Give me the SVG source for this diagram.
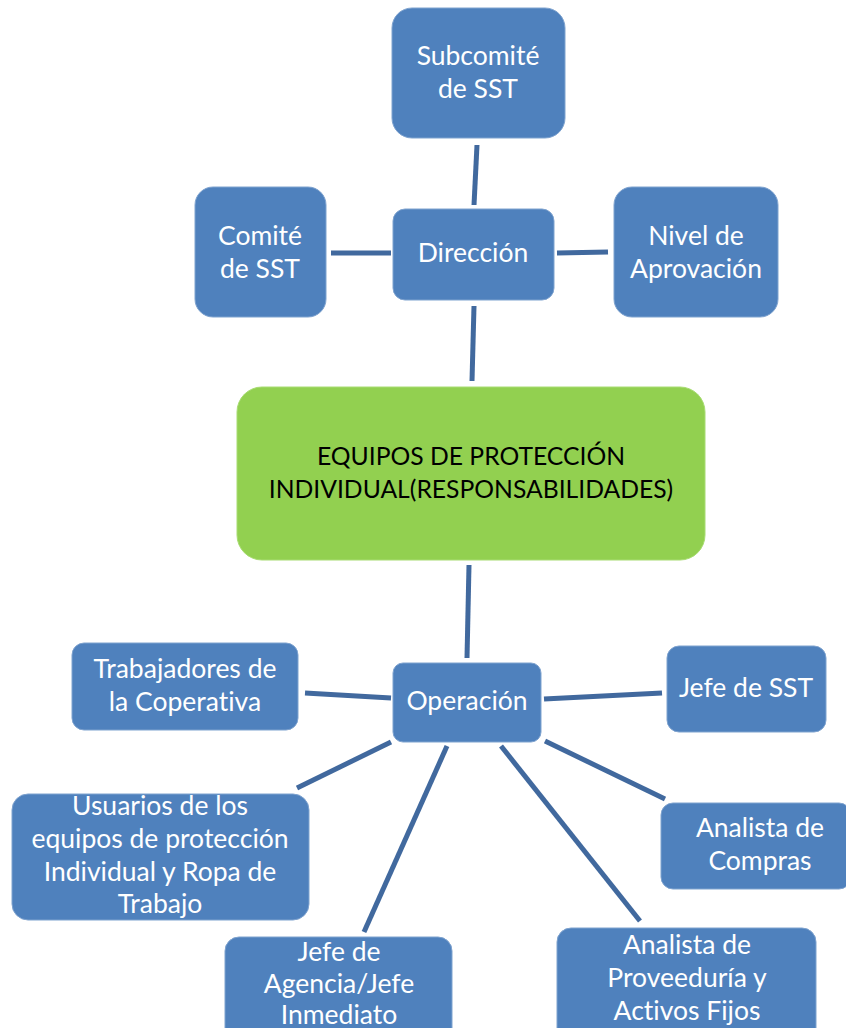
<svg xmlns="http://www.w3.org/2000/svg" width="846" height="1028" viewBox="0 0 846 1028">
  <style>
    .box { fill: #4f81bd; stroke: #7fa3cf; stroke-width: 1; }
    .core { fill: #92d050; stroke: #a8dc72; stroke-width: 1; }
    text { font-family: Lato, "Open Sans", sans-serif; text-anchor: middle; font-variant-ligatures: none; }
    .lbl { font-size: 26.5px; fill: #ffffff; }
    .lbl-dark { font-size: 24.7px; fill: #000000; }
    .link { stroke: #41699e; stroke-width: 5; fill: none; }
  </style>
  <rect width="846" height="1028" fill="#ffffff"/>

  <!-- connectors -->
  <g id="connectors">
    <line class="link" x1="477" y1="145" x2="474" y2="205"/>
    <line class="link" x1="331" y1="253" x2="391" y2="253"/>
    <line class="link" x1="557" y1="253" x2="608" y2="252"/>
    <line class="link" x1="474" y1="306" x2="472" y2="381"/>
    <line class="link" x1="469" y1="565" x2="467" y2="658"/>
    <line class="link" x1="305" y1="693" x2="391" y2="698"/>
    <line class="link" x1="391" y1="742" x2="297" y2="788"/>
    <line class="link" x1="544" y1="699" x2="662" y2="693"/>
    <line class="link" x1="545" y1="741" x2="665" y2="799"/>
    <line class="link" x1="447" y1="746" x2="364" y2="932"/>
    <line class="link" x1="501" y1="746" x2="640" y2="921"/>
  </g>

  <!-- management level -->
  <g id="subcomite">
    <rect class="box" x="392" y="8" width="173" height="130" rx="20"/>
    <text class="lbl" x="478" y="65">Subcomité</text>
    <text class="lbl" x="478" y="98">de SST</text>
  </g>
  <g id="comite">
    <rect class="box" x="195" y="187" width="131" height="130" rx="18"/>
    <text class="lbl" x="260" y="245">Comité</text>
    <text class="lbl" x="260" y="278">de SST</text>
  </g>
  <g id="direccion">
    <rect class="box" x="393" y="209" width="161" height="91" rx="12"/>
    <text class="lbl" x="473" y="262">Dirección</text>
  </g>
  <g id="nivel">
    <rect class="box" x="614" y="187" width="164" height="130" rx="18"/>
    <text class="lbl" x="696" y="245">Nivel de</text>
    <text class="lbl" x="696" y="278">Aprovación</text>
  </g>

  <!-- central topic -->
  <g id="epi">
    <rect class="core" x="237" y="387" width="468" height="173" rx="25"/>
    <text class="lbl-dark" x="471" y="465">EQUIPOS DE PROTECCIÓN</text>
    <text class="lbl-dark" x="471" y="498">INDIVIDUAL(RESPONSABILIDADES)</text>
  </g>

  <!-- operation level -->
  <g id="operacion">
    <rect class="box" x="393" y="663" width="148" height="79" rx="10"/>
    <text class="lbl" x="467" y="710">Operación</text>
  </g>
  <g id="trabajadores">
    <rect class="box" x="72" y="643" width="226" height="87" rx="12"/>
    <text class="lbl" x="185" y="678">Trabajadores de</text>
    <text class="lbl" x="185" y="711">la Coperativa</text>
  </g>
  <g id="jefe-sst">
    <rect class="box" x="667" y="646" width="159" height="86" rx="12"/>
    <text class="lbl" x="746" y="697">Jefe de SST</text>
  </g>
  <g id="usuarios">
    <rect class="box" x="12" y="794" width="297" height="126" rx="16"/>
    <text class="lbl" x="160" y="815">Usuarios de los</text>
    <text class="lbl" x="160" y="848">equipos de protección</text>
    <text class="lbl" x="160" y="881">Individual y Ropa de</text>
    <text class="lbl" x="160" y="913">Trabajo</text>
  </g>
  <g id="analista-compras">
    <rect class="box" x="661" y="803" width="190" height="86" rx="12"/>
    <text class="lbl" x="760" y="837">Analista de</text>
    <text class="lbl" x="760" y="870">Compras</text>
  </g>
  <g id="jefe-agencia">
    <rect class="box" x="225" y="937" width="227" height="110" rx="14"/>
    <text class="lbl" x="339" y="961">Jefe de</text>
    <text class="lbl" x="339" y="993">Agencia/Jefe</text>
    <text class="lbl" x="339" y="1024">Inmediato</text>
  </g>
  <g id="analista-proveeduria">
    <rect class="box" x="557" y="928" width="259" height="120" rx="14"/>
    <text class="lbl" x="687" y="954">Analista de</text>
    <text class="lbl" x="687" y="987">Proveeduría y</text>
    <text class="lbl" x="687" y="1020">Activos Fijos</text>
  </g>
</svg>
